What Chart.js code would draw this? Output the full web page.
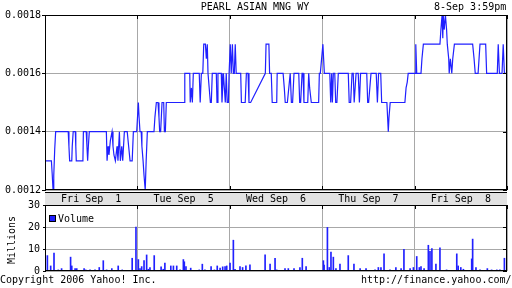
<!DOCTYPE html>
<html lang="en">
<head>
<meta charset="UTF-8">
<title>PEARL ASIAN MNG WY</title>
<script src="https://cdn.jsdelivr.net/npm/chart.js"></script>
<style>
  body { margin:0; width:512px; height:288px; background:#fff; position:relative; overflow:hidden;
         font-family:"DejaVu Sans Mono", monospace; font-size:10px; color:#000; }
  canvas { position:absolute; left:0; top:0; }
  .txt { position:absolute; white-space:pre; line-height:10px; }
</style>
</head>
<body>
<canvas id="priceChart" width="512" height="288"></canvas>
<canvas id="volumeChart" width="512" height="288"></canvas>

<div class="txt" style="left:0;width:510px;top:2px;text-align:center">PEARL ASIAN MNG WY</div>
<div class="txt" style="left:434px;top:2px">8-Sep 3:59pm</div>
<div class="txt" style="left:-18px;top:235px;transform:rotate(-90deg);width:60px;text-align:center">Millions</div>
<div style="position:absolute;left:49px;top:215px;width:5px;height:5px;background:#2020ff;border:1px solid #000"></div>
<div class="txt" style="left:58px;top:214px">Volume</div>
<div class="txt" style="left:0;top:275px">Copyright 2006 Yahoo! Inc.</div>
<div class="txt" style="left:361px;top:275px">http://finance.yahoo.com/</div>

<script>
// trading minutes since Fri Sep 1 open, 390 per session
const dayLabels = ['Fri Sep  1', 'Tue Sep  5', 'Wed Sep  6', 'Thu Sep  7', 'Fri Sep  8'];
const priceTicks = [0.0012, 0.0014, 0.0016, 0.0018];
const volumeTicks = [0, 10, 20, 30];

const priceTimes = [
  3, 27, 30, 34, 37, 41, 45, 98, 101, 104, 113, 115, 119, 128, 130, 132, 160, 162, 174, 177,
  180, 183, 187, 259, 262, 266, 270, 276, 283, 287, 291, 297, 304, 308, 314, 318, 324, 328, 335, 347,
  353, 359, 364, 368, 373, 387,
  394, 397, 401, 406, 409, 414, 418, 423, 427, 432, 460, 464, 470, 474, 477, 481, 484, 488, 494, 501,
  504, 508, 512, 587, 590, 611, 613, 618, 622, 626, 632, 639, 646, 651, 655, 660, 666, 670, 677, 681,
  685, 688, 692, 698, 702, 706, 723, 726, 730, 744, 747, 753, 757, 761, 765, 769, 774, 777,
  782, 786, 791, 795, 799, 803, 807, 826, 829, 833, 845, 850, 857, 861, 868, 930, 933, 945, 948, 955,
  959, 978, 980, 1005, 1010, 1014, 1023, 1029, 1035, 1040, 1045, 1051, 1071, 1075, 1079, 1085, 1089, 1093, 1109, 1113,
  1117, 1124, 1141, 1155, 1158, 1162,
  1173, 1176, 1179, 1202, 1206, 1210, 1213, 1217, 1223, 1227, 1232, 1238, 1280, 1284, 1290, 1296, 1301, 1305, 1313, 1322,
  1327, 1332, 1338, 1358, 1362, 1366, 1376, 1398, 1403, 1408, 1417, 1421, 1430, 1443, 1446, 1449, 1452, 1457, 1519, 1524,
  1529, 1533, 1541, 1562,
  1565, 1569, 1587, 1591, 1597, 1667, 1671, 1676, 1679, 1681, 1685, 1690, 1695, 1698, 1704, 1706, 1711, 1717, 1721, 1728,
  1805, 1811, 1816, 1828, 1836, 1860, 1864, 1909, 1913, 1918, 1925, 1929, 1934, 1939, 1946, 1949
];
const priceValues = [
  0.0013, 0.0013, 0.00126, 0.0012, 0.00125, 0.00134, 0.0014, 0.0014, 0.00135, 0.0013, 0.0013, 0.00135, 0.0014, 0.0014, 0.00135, 0.0013, 0.0013, 0.0014, 0.0014, 0.00135,
  0.0013, 0.00135, 0.0014, 0.0014, 0.0013, 0.00135, 0.00132, 0.00137, 0.0014, 0.00135, 0.00132, 0.0013, 0.00135, 0.0013, 0.0014, 0.0013, 0.00135, 0.0013, 0.0014, 0.0014,
  0.00135, 0.0013, 0.0013, 0.0013, 0.0014, 0.0014,
  0.0015, 0.00145, 0.0014, 0.0014, 0.00135, 0.0013, 0.00125, 0.0012, 0.0013, 0.0014, 0.0014, 0.00145, 0.0015, 0.0015, 0.0015, 0.00145, 0.0014, 0.0014, 0.0015, 0.0015,
  0.0014, 0.0014, 0.0015, 0.0015, 0.0016, 0.0016, 0.0015, 0.00155, 0.0015, 0.0016, 0.0016, 0.0016, 0.0016, 0.0016, 0.0015, 0.0016, 0.0016, 0.0017, 0.0017, 0.00165,
  0.0017, 0.0016, 0.0016, 0.0015, 0.0015, 0.0016, 0.0016, 0.0015, 0.0016, 0.0016, 0.0015, 0.0016, 0.00155, 0.0015, 0.0016, 0.0015, 0.0015, 0.0016,
  0.0017, 0.0016, 0.0017, 0.0016, 0.0016, 0.0017, 0.0016, 0.0016, 0.0015, 0.0015, 0.0015, 0.0016, 0.0016, 0.0015, 0.0015, 0.0016, 0.0017, 0.0017, 0.0016, 0.0016,
  0.0015, 0.0015, 0.0016, 0.0016, 0.00155, 0.0015, 0.0015, 0.00155, 0.0016, 0.0015, 0.0015, 0.0016, 0.0016, 0.0015, 0.0015, 0.0016, 0.0016, 0.0015, 0.0015, 0.0016,
  0.00155, 0.0015, 0.0015, 0.0015, 0.0016, 0.0016,
  0.0017, 0.00165, 0.0016, 0.0016, 0.0015, 0.0016, 0.0015, 0.0016, 0.0016, 0.0015, 0.0015, 0.0016, 0.0016, 0.0015, 0.0015, 0.0016, 0.0016, 0.0015, 0.0016, 0.0016,
  0.0015, 0.0016, 0.0016, 0.0016, 0.0015, 0.0015, 0.0016, 0.0016, 0.0015, 0.0016, 0.0016, 0.0015, 0.0015, 0.0015, 0.00145, 0.0014, 0.00145, 0.0015, 0.0015, 0.00155,
  0.00157, 0.0016, 0.0016, 0.0016,
  0.0017, 0.0016, 0.0016, 0.00165, 0.0017, 0.0017, 0.00175, 0.0018, 0.00172, 0.0018, 0.00175, 0.0018, 0.00175, 0.0017, 0.00165, 0.0016, 0.00165, 0.0016, 0.00165, 0.0017,
  0.0017, 0.00165, 0.0016, 0.0016, 0.0017, 0.0017, 0.0016, 0.0016, 0.0017, 0.0016, 0.0016, 0.0016, 0.0017, 0.0016, 0.0016, 0.0018
];

// volume in millions
const volumeTimes = [
  10, 24, 38, 56, 70, 108, 113, 127, 134, 165, 172, 190, 211, 229, 246, 260, 282, 309, 326, 368, 384,
  394, 401, 408, 418, 429, 436, 443, 461, 490, 499, 506, 531, 542, 556, 570, 584, 588, 595, 615, 651,
  664, 675, 701, 715, 727, 739, 750, 760, 767,
  781, 795, 802, 823, 834, 848, 865, 929, 950, 971, 978, 1013, 1027, 1051, 1076, 1086, 1102,
  1175, 1178, 1192, 1200, 1207, 1217, 1228, 1245, 1280, 1304, 1330, 1355, 1393, 1407, 1418, 1431, 1456, 1481,
  1503, 1515, 1541, 1555,
  1569, 1580, 1587, 1600, 1618, 1625, 1633, 1650, 1667, 1695, 1738, 1744, 1755, 1766, 1801, 1805, 1819, 1836,
  1867, 1885, 1907, 1920, 1939
];
const volumeValues = [
  7.0, 2.3, 8.1, 0.5, 1.1, 6.3, 2.3, 1.1, 1.1, 1.1, 0.5, 0.5, 0.5, 1.6, 4.7, 0.5, 1.1, 2.3, 0.5, 5.8, 20,
  5.2, 1.1, 2.0, 4.7, 7.3, 0.8, 1.6, 7.0, 1.9, 0.8, 3.6, 2.3, 2.3, 2.3, 0.5, 5.2, 4.2, 2.0, 1.3, 0.5,
  3.1, 0.5, 2.0, 0.5, 2.3, 1.3, 1.9, 2.0, 2.3,
  3.6, 14, 0.8, 2.0, 1.6, 2.3, 2.8, 7.3, 3.1, 5.8, 0.5, 1.1, 1.1, 1.1, 1.6, 5.8, 2.0,
  4.7, 2.7, 19.8, 1.6, 8.6, 6.3, 1.1, 3.1, 7.0, 3.1, 1.1, 1.1, 0.5, 1.6, 1.6, 7.8, 0.5, 1.6,
  1.1, 9.8, 1.1, 1.6,
  6.6, 1.6, 2.0, 1.1, 11.7, 8.9, 10.2, 3.1, 10.5, 0.5, 7.8, 2.3, 1.6, 0.8, 5.5, 14.5, 1.6, 0.5,
  1.1, 0.5, 0.5, 0.5, 5.8
];

const SESSION = 390;
const BLUE = '#2020ff';
const GRID = '#a8a8a8';

Chart.defaults.font.family = '"DejaVu Sans Mono", monospace';
Chart.defaults.font.size = 10;
Chart.defaults.color = '#000';

// black frame, inner tick marks, and the date band under the price panel
const framePlugin = {
  id: 'frame',
  afterDraw(chart, args, opts) {
    const { ctx, chartArea: a, scales: { x, y } } = chart;
    ctx.save();
    ctx.strokeStyle = '#000';
    ctx.lineWidth = 1;
    ctx.strokeRect(Math.round(a.left) + 0.5, Math.round(a.top) + 0.5,
                   Math.round(a.right - a.left) - 1, Math.round(a.bottom - a.top) - 1);
    ctx.beginPath();
    x.ticks.forEach(t => {
      const px = Math.round(x.getPixelForValue(t.value)) + 0.5;
      ctx.moveTo(px, a.top); ctx.lineTo(px, a.top + 4);
      if (opts.bottomTicks) { ctx.moveTo(px, a.bottom); ctx.lineTo(px, a.bottom - 4); }
    });
    y.ticks.forEach(t => {
      const py = Math.round(y.getPixelForValue(t.value)) + 0.5;
      ctx.moveTo(a.right, py); ctx.lineTo(a.right - 4, py);
    });
    ctx.stroke();

    if (opts.band) {
      const top = Math.round(a.bottom) + 2;
      ctx.fillStyle = '#e2e2e2';
      ctx.fillRect(a.left, top, a.right - a.left, 13);
      ctx.beginPath();
      ctx.moveTo(a.left, top + 0.5); ctx.lineTo(a.right, top + 0.5);
      ctx.stroke();
      ctx.fillStyle = '#000';
      ctx.font = '10px "DejaVu Sans Mono", monospace';
      ctx.textAlign = 'center';
      ctx.textBaseline = 'middle';
      dayLabels.forEach((lbl, i) => {
        const cx = x.getPixelForValue((i + 0.5) * SESSION);
        ctx.fillText(lbl, cx, top + 7);
      });
    }
    ctx.restore();
  }
};

const xScale = () => ({
  type: 'linear',
  offset: false,
  min: 0,
  max: SESSION * dayLabels.length,
  ticks: { stepSize: SESSION, display: false },
  grid: { color: GRID, drawTicks: false, offset: false },
  border: { display: false },
  afterFit: s => { s.height = 0; }
});

new Chart(document.getElementById('priceChart'), {
  type: 'line',
  data: {
    datasets: [{
      data: priceTimes.map((t, i) => ({ x: t, y: priceValues[i] })),
      borderColor: BLUE,
      borderWidth: 1.2,
      pointRadius: 0,
      tension: 0
    }]
  },
  options: {
    responsive: false,
    animation: false,
    layout: { padding: { top: 15, right: 5, bottom: 98, left: 0 } },
    scales: {
      x: xScale(),
      y: {
        min: priceTicks[0],
        max: priceTicks[priceTicks.length - 1],
        afterBuildTicks: s => { s.ticks = priceTicks.map(v => ({ value: v })); },
        ticks: { callback: v => Number(v).toFixed(4), padding: 1 },
        grid: { color: GRID, tickColor: '#000', tickLength: 3 },
        border: { color: '#000' },
        afterFit: s => { s.width = 45; }
      }
    },
    plugins: {
      legend: { display: false },
      tooltip: { enabled: false },
      frame: { band: true, bottomTicks: true }
    }
  },
  plugins: [framePlugin]
});

new Chart(document.getElementById('volumeChart'), {
  type: 'bar',
  data: {
    datasets: [{
      data: volumeTimes.map((t, i) => ({ x: t, y: volumeValues[i] })),
      backgroundColor: BLUE,
      barThickness: 1
    }]
  },
  options: {
    responsive: false,
    animation: false,
    layout: { padding: { top: 205, right: 5, bottom: 17, left: 0 } },
    scales: {
      x: xScale(),
      y: {
        min: volumeTicks[0],
        max: volumeTicks[volumeTicks.length - 1],
        afterBuildTicks: s => { s.ticks = volumeTicks.map(v => ({ value: v })); },
        ticks: { padding: 3 },
        grid: { color: GRID, tickColor: '#000', tickLength: 2 },
        border: { color: '#000' },
        afterFit: s => { s.width = 45; }
      }
    },
    plugins: {
      legend: { display: false },
      tooltip: { enabled: false },
      frame: { band: false, bottomTicks: false }
    }
  },
  plugins: [framePlugin]
});
</script>
</body>
</html>
